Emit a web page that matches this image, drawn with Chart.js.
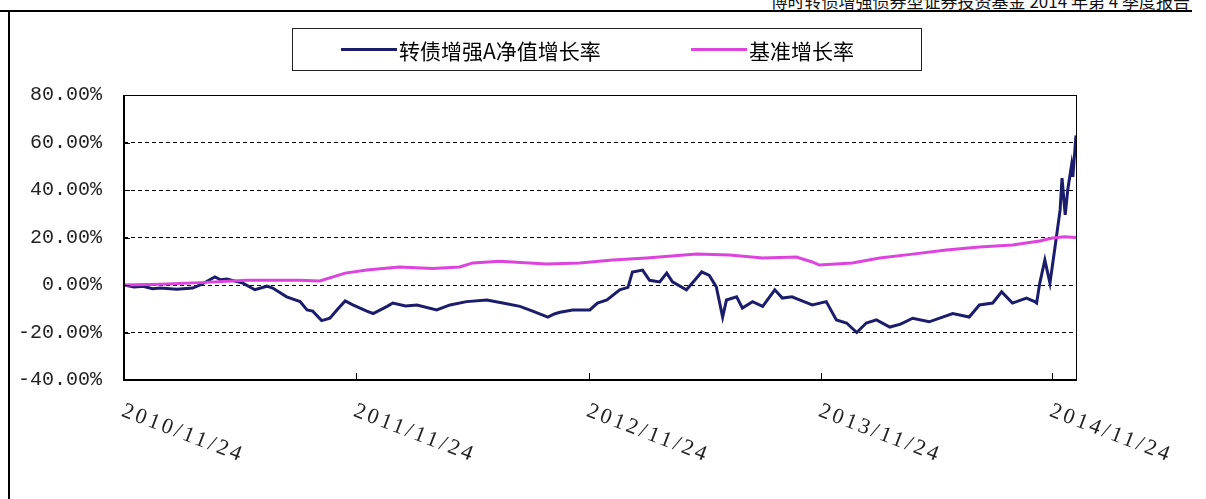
<!DOCTYPE html>
<html>
<head>
<meta charset="utf-8">
<script src="https://cdn.jsdelivr.net/npm/chart.js@4/dist/chart.umd.min.js"></script>
<style>
  html, body { margin: 0; padding: 0; background: #fff; }
  #wrap { position: relative; width: 1206px; height: 499px; overflow: hidden; }
  #header { position: absolute; right: 16px; top: -12px; font: 17px "Noto Sans CJK SC", serif; color: #111; white-space: nowrap; }
  #topRule { position: absolute; left: 0; top: 10px; width: 1192px; height: 2px; background: #000; }
  #leftRule { position: absolute; left: 8px; top: 10px; width: 2px; height: 489px; background: #000; }
  #legend { position: absolute; left: 292px; top: 28px; width: 628px; height: 41px; border: 1px solid #222;
            font: 21px "Noto Sans CJK SC", sans-serif; color: #000; }
  .item { position: absolute; top: 0; height: 41px; display: flex; align-items: center; }
  .swatch { display: inline-block; width: 56px; height: 3px; margin-right: 2px; }
  canvas { position: absolute; left: 0; top: 0; }
</style>
</head>
<body>
<div id="wrap">
  <div id="header">博时转债增强债券型证券投资基金 2014 年第 4 季度报告</div>
  <div id="topRule"></div>
  <div id="leftRule"></div>
  <canvas id="chart" width="1206" height="499"></canvas>
  <div id="legend"></div>
</div>
<script>
/* 转债增强A vs benchmark — cumulative growth since inception */

const COLORS = {
    navy: '#1c1c6c',
    magenta: '#dd44dd',
    ink: '#000000',
};

const SERIES_NAMES = ['转债增强A净值增长率', '基准增长率'];

const fundDates = [
    '2010-11-24', '2010-12-10', '2010-12-24', '2011-01-08', '2011-01-20', '2011-02-15', '2011-03-12', '2011-03-24', '2011-04-16',
    '2011-04-25', '2011-05-05', '2011-05-30', '2011-06-18', '2011-07-07', '2011-07-16', '2011-08-07',
    '2011-08-28', '2011-09-08', '2011-09-17', '2011-10-01', '2011-10-14', '2011-10-25',
    '2011-11-07', '2011-11-19', '2011-12-11', '2011-12-21', '2012-01-12', '2012-01-21',
    '2012-02-10', '2012-02-28', '2012-03-30', '2012-04-20', '2012-05-16', '2012-06-17', '2012-07-12',
    '2012-08-08', '2012-08-28', '2012-09-21', '2012-10-01', '2012-10-10', '2012-10-30', '2012-11-26',
    '2012-12-08', '2012-12-23', '2013-01-12', '2013-01-25', '2013-02-01', '2013-02-17',
    '2013-02-28', '2013-03-16', '2013-03-27', '2013-04-05', '2013-04-27', '2013-05-10',
    '2013-05-21', '2013-06-02', '2013-06-13', '2013-06-23', '2013-06-29', '2013-07-15',
    '2013-07-24', '2013-08-09', '2013-08-25', '2013-09-13', '2013-09-25', '2013-10-10', '2013-10-22',
    '2013-11-11', '2013-12-03', '2013-12-19', '2014-01-04', '2014-01-20', '2014-02-04',
    '2014-02-20', '2014-03-13', '2014-03-30', '2014-04-18', '2014-05-14', '2014-06-20', '2014-07-16',
    '2014-08-01', '2014-08-22', '2014-09-05', '2014-09-22', '2014-10-14', '2014-10-27',
    '2014-10-30', '2014-11-04', '2014-11-12', '2014-11-20', '2014-11-28', '2014-12-06',
    '2014-12-09', '2014-12-14', '2014-12-18', '2014-12-24', '2014-12-26', '2014-12-31',
];
const fundValues = [
    0, -0.8, -0.5, -1.6, -1.3, -1.8, -1.3, 0, 3.4,
    2.2, 2.5, 0.8, -2, -0.5, -1.3, -5,
    -7, -10.5, -11, -15, -14, -10.5,
    -6.7, -8.4, -11, -12, -9, -7.6,
    -8.8, -8.4, -10.5, -8.4, -7, -6.3, -7.6,
    -9, -11, -13.5, -12.2, -11.5, -10.5, -10.5,
    -7.6, -6.3, -2, -1, 5.5, 6.3,
    2, 1.3, 5, 1.3, -2, 2,
    5.5, 4, -0.8, -13.5, -6.3, -5,
    -9.7, -7, -9, -2, -5.5, -5, -6.3,
    -8.4, -7, -14.7, -16, -20, -16,
    -14.7, -17.7, -16.5, -14, -15.5, -12, -13.5,
    -8.4, -7.6, -2.9, -7.6, -5.5, -7,
    -7.6, 0.8, 10.5, 0.8, 16, 31.6,
    45, 29.5, 40, 50.5, 45.5, 63,
];

const benchDates = [
    '2010-11-24', '2011-01-20', '2011-03-24', '2011-06-05', '2011-08-28', '2011-09-28',
    '2011-11-07', '2011-12-11', '2012-01-31', '2012-03-24', '2012-05-05', '2012-05-26',
    '2012-07-07', '2012-09-19', '2012-11-10', '2013-01-01', '2013-02-23', '2013-05-13',
    '2013-07-04', '2013-08-25', '2013-10-17', '2013-11-11', '2013-11-22', '2014-01-13',
    '2014-02-25', '2014-04-18', '2014-06-10', '2014-08-01', '2014-09-22', '2014-11-04',
    '2014-11-24', '2014-12-13', '2014-12-31',
];
const benchValues = [
    0, 0.3, 1, 2, 2, 1.7,
    5, 6.3, 7.6, 7, 7.6, 9.3,
    10, 8.8, 9.3, 10.5, 11.4, 13,
    12.6, 11.4, 11.8, 9.7, 8.4, 9.3,
    11.4, 13, 14.7, 16, 16.8, 18.5,
    19.8, 20.3, 20,
];

const tickDates = ['2010-11-24', '2011-11-24', '2012-11-24', '2013-11-24', '2014-11-24'];
const tickLabels = ['2010/11/24', '2011/11/24', '2012/11/24', '2013/11/24', '2014/11/24'];

const START = Date.UTC(2010, 10, 24);
function dayOf(s) {
    const p = s.split('-').map(Number);
    return (Date.UTC(p[0], p[1] - 1, p[2]) - START) / 86400000;
}
const toPoints = (dates, vals) => dates.map((d, i) => ({ x: dayOf(d), y: vals[i] }));

// Plot frame, inward tick marks and slanted date labels
const framePlugin = {
    id: 'frame',
    afterDraw(chart) {
        const { ctx, chartArea: a, scales } = chart;
        ctx.save();
        ctx.strokeStyle = COLORS.ink;
        ctx.lineWidth = 1;
        ctx.strokeRect(a.left + 0.5, a.top + 0.5, a.right - a.left, a.bottom - a.top);
        ctx.lineWidth = 2;
        ctx.beginPath();
        ctx.moveTo(a.left, a.top);
        ctx.lineTo(a.left, a.bottom);
        ctx.lineTo(a.right, a.bottom);
        ctx.stroke();

        ctx.lineWidth = 1;
        scales.y.ticks.forEach(t => {
            const y = Math.round(scales.y.getPixelForValue(t.value)) + 0.5;
            ctx.beginPath();
            ctx.moveTo(a.left, y);
            ctx.lineTo(a.left + 6, y);
            ctx.stroke();
        });

        ctx.fillStyle = '#222';
        ctx.font = '22px "Liberation Serif", serif';
        ctx.letterSpacing = '3px';
        ctx.textBaseline = 'top';
        tickDates.forEach((d, i) => {
            const x = Math.round(scales.x.getPixelForValue(dayOf(d))) + 0.5;
            ctx.beginPath();
            ctx.moveTo(x, a.bottom);
            ctx.lineTo(x, a.bottom - 7);
            ctx.stroke();
            ctx.save();
            ctx.translate(x + 2, a.bottom + 20);
            ctx.rotate(21 * Math.PI / 180);
            ctx.fillText(tickLabels[i], 0, 0);
            ctx.restore();
        });
        ctx.restore();
    },
};

const chart = new Chart(document.getElementById('chart'), {
    type: 'line',
    data: {
        datasets: [
            {
                label: SERIES_NAMES[0],
                data: toPoints(fundDates, fundValues),
                borderColor: COLORS.navy,
                borderWidth: 3,
                pointRadius: 0,
                tension: 0,
                order: 1,
            },
            {
                label: SERIES_NAMES[1],
                data: toPoints(benchDates, benchValues),
                borderColor: COLORS.magenta,
                borderWidth: 3,
                pointRadius: 0,
                tension: 0,
                order: 0,
            },
        ],
    },
    options: {
        responsive: false,
        animation: false,
        layout: { padding: { left: 0, top: 95, right: 130, bottom: 119 } },
        scales: {
            x: {
                type: 'linear',
                min: 0,
                max: dayOf('2014-12-31'),
                ticks: { display: false },
                grid: { display: false },
                border: { display: false },
                afterFit: s => { s.height = 0; },
            },
            y: {
                min: -40,
                max: 80,
                ticks: {
                    stepSize: 20,
                    padding: 22,
                    color: '#222',
                    font: { family: "'Liberation Mono', monospace", size: 20 },
                    callback: v => v.toFixed(2) + '%',
                },
                grid: {
                    drawTicks: false,
                    color: ctx => (ctx.tick.value === 80 || ctx.tick.value === -40) ? 'rgba(0,0,0,0)' : '#000',
                    lineWidth: 1,
                },
                border: { display: false, dash: [4, 3] },
                afterFit: s => { s.width = 124; },
            },
        },
        plugins: {
            legend: { display: false },
            tooltip: { enabled: false },
        },
    },
    plugins: [framePlugin],
});

// Boxed legend built from the datasets
const legend = document.getElementById('legend');
const legendX = [48, 398];
chart.data.datasets.forEach((ds, i) => {
    const item = document.createElement('div');
    item.className = 'item';
    item.style.left = legendX[i] + 'px';
    item.innerHTML = '<span class="swatch" style="background:' + ds.borderColor + '"></span>' + ds.label;
    legend.appendChild(item);
});
</script>
</body>
</html>
